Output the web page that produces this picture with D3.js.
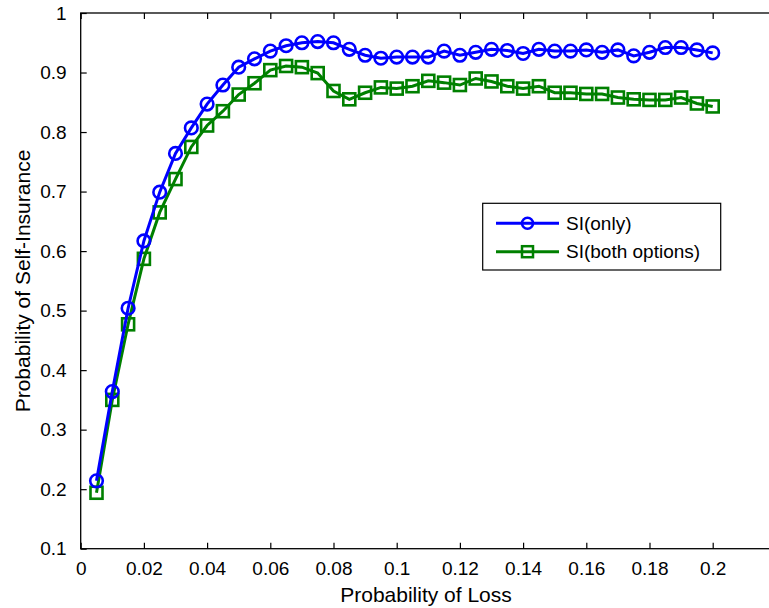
<!DOCTYPE html>
<meta charset="utf-8">
<head>
<style>
  body { margin: 0; background: #fff; }
  text { font-family: "Liberation Sans", Arial, sans-serif; }
</style>
</head>
<body>
<div id="chart"></div>
<script src="https://d3js.org/d3.v7.min.js"></script>
<script>
// probability of loss, 0.005 steps
var probLoss = [0.005, 0.01, 0.015, 0.02, 0.025, 0.03, 0.035, 0.04, 0.045, 0.05,
  0.055, 0.06, 0.065, 0.07, 0.075, 0.08, 0.085, 0.09, 0.095, 0.1,
  0.105, 0.11, 0.115, 0.12, 0.125, 0.13, 0.135, 0.14, 0.145, 0.15,
  0.155, 0.16, 0.165, 0.17, 0.175, 0.18, 0.185, 0.19, 0.195, 0.2];

var siOnly = [0.214, 0.364, 0.504, 0.617, 0.699, 0.764, 0.807, 0.847, 0.879, 0.909,
  0.923, 0.936, 0.945, 0.950, 0.952, 0.950, 0.939, 0.929, 0.924, 0.926,
  0.926, 0.926, 0.936, 0.929, 0.934, 0.939, 0.937, 0.932, 0.939, 0.936,
  0.936, 0.938, 0.934, 0.938, 0.928, 0.934, 0.942, 0.942, 0.938, 0.933];

var siBoth = [0.194, 0.350, 0.477, 0.587, 0.665, 0.721, 0.775, 0.811, 0.835, 0.863,
  0.882, 0.904, 0.911, 0.909, 0.899, 0.869, 0.855, 0.866, 0.875, 0.873,
  0.877, 0.886, 0.883, 0.879, 0.890, 0.885, 0.877, 0.873, 0.877, 0.866,
  0.866, 0.864, 0.864, 0.858, 0.855, 0.854, 0.854, 0.858, 0.848, 0.843];

var xTicks = [0, 0.02, 0.04, 0.06, 0.08, 0.1, 0.12, 0.14, 0.16, 0.18, 0.2];
var yTicks = [0.1, 0.2, 0.3, 0.4, 0.5, 0.6, 0.7, 0.8, 0.9, 1];

var seriesNames = ["SI(only)", "SI(both options)"];

var W = 769, H = 608;
// plot box (right edge lies just outside the picture)
var boxL = 80.7, boxT = 13, boxR = 775.9, boxB = 548.7;
var fs = 19, titleFs = 21;

var svg = d3.select("#chart").append("svg")
  .attr("width", W).attr("height", H);

var x = d3.scaleLinear().domain([0, 0.22]).range([boxL, boxR]);
var y = d3.scaleLinear().domain([0.1, 1]).range([boxB, boxT]);

var fmt = function(d) { return d === 0 ? "0" : String(+d.toFixed(2)); };

// box
svg.append("rect")
  .attr("x", boxL).attr("y", boxT)
  .attr("width", boxR - boxL).attr("height", boxB - boxT)
  .attr("fill", "none").attr("stroke", "#000").attr("stroke-width", 1.3);

// axes, ticks inward
var gx = svg.append("g").attr("transform", "translate(0," + boxB + ")")
  .call(d3.axisBottom(x).tickValues(xTicks).tickSize(-6).tickPadding(13).tickFormat(fmt));
var gxTop = svg.append("g").attr("transform", "translate(0," + boxT + ")")
  .call(d3.axisTop(x).tickValues(xTicks).tickSize(-6).tickFormat(""));
var gy = svg.append("g").attr("transform", "translate(" + boxL + ",0)")
  .call(d3.axisLeft(y).tickValues(yTicks).tickSize(-6).tickPadding(14).tickFormat(fmt));
var gyRight = svg.append("g").attr("transform", "translate(" + boxR + ",0)")
  .call(d3.axisRight(y).tickValues(yTicks).tickSize(-6).tickFormat(""));

[gx, gxTop, gy, gyRight].forEach(function(g) {
  g.select(".domain").remove();
  g.selectAll("line").attr("stroke", "#000").attr("stroke-width", 1.2);
  g.selectAll("text").style("font-size", fs + "px").attr("fill", "#000")
    .style("font-family", "'Liberation Sans', Arial, sans-serif");
});

// axis titles
svg.append("text")
  .attr("x", 426).attr("y", 602)
  .attr("text-anchor", "middle")
  .style("font-size", titleFs + "px")
  .text("Probability of Loss");

svg.append("text")
  .attr("transform", "translate(30,281) rotate(-90)")
  .attr("text-anchor", "middle")
  .style("font-size", titleFs + "px")
  .text("Probability of Self-Insurance");

var line = d3.line()
  .x(function(d) { return x(d[0]); })
  .y(function(d) { return y(d[1]); });

var blueData = probLoss.map(function(p, i) { return [p, siOnly[i]]; });
var greenData = probLoss.map(function(p, i) { return [p, siBoth[i]]; });

var blue = "#0000ff", green = "#008000";

// green series
svg.append("path").datum(greenData)
  .attr("d", line).attr("fill", "none")
  .attr("stroke", green).attr("stroke-width", 3);
svg.selectAll(".sq").data(greenData).enter().append("rect")
  .attr("x", function(d) { return x(d[0]) - 6; })
  .attr("y", function(d) { return y(d[1]) - 6; })
  .attr("width", 12).attr("height", 12)
  .attr("fill", "none").attr("stroke", green).attr("stroke-width", 2.6);

// blue series
svg.append("path").datum(blueData)
  .attr("d", line).attr("fill", "none")
  .attr("stroke", blue).attr("stroke-width", 3);
svg.selectAll(".ci").data(blueData).enter().append("circle")
  .attr("cx", function(d) { return x(d[0]); })
  .attr("cy", function(d) { return y(d[1]); })
  .attr("r", 6.3)
  .attr("fill", "none").attr("stroke", blue).attr("stroke-width", 2.6);

// legend
var lg = svg.append("g");
lg.append("rect")
  .attr("x", 482.7).attr("y", 203.3)
  .attr("width", 238).attr("height", 66.7)
  .attr("fill", "#fff").attr("stroke", "#000").attr("stroke-width", 1.2);

var rows = [
  { name: seriesNames[0], color: blue, shape: "circle", y: 223.3 },
  { name: seriesNames[1], color: green, shape: "square", y: 251.7 }
];
rows.forEach(function(r) {
  lg.append("line")
    .attr("x1", 496).attr("x2", 559)
    .attr("y1", r.y).attr("y2", r.y)
    .attr("stroke", r.color).attr("stroke-width", 3);
  if (r.shape === "circle") {
    lg.append("circle").attr("cx", 527.5).attr("cy", r.y).attr("r", 5.5)
      .attr("fill", "none").attr("stroke", r.color).attr("stroke-width", 2.5);
  } else {
    lg.append("rect").attr("x", 522).attr("y", r.y - 5.5)
      .attr("width", 11).attr("height", 11)
      .attr("fill", "none").attr("stroke", r.color).attr("stroke-width", 2.5);
  }
  lg.append("text")
    .attr("x", 566).attr("y", r.y)
    .attr("dy", "0.35em")
    .style("font-size", fs + "px")
    .text(r.name);
});
</script>
</body>
